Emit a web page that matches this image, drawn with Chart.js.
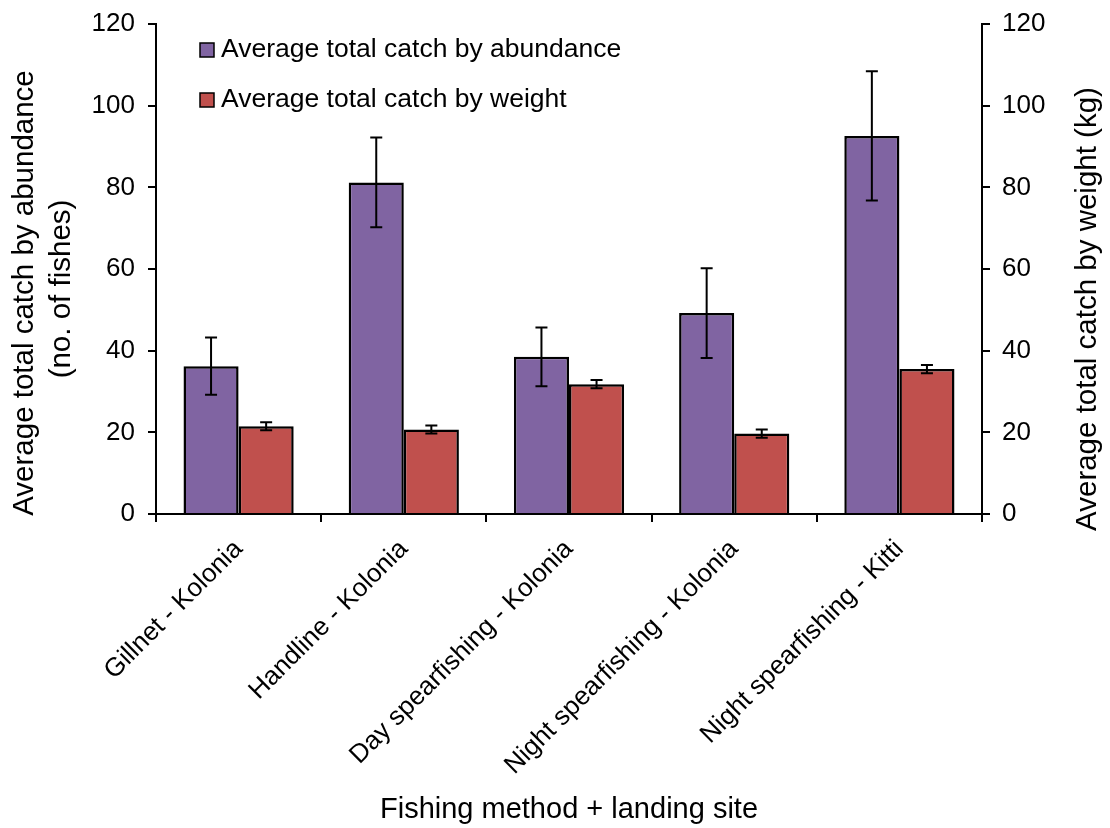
<!DOCTYPE html>
<html>
<head>
<meta charset="utf-8">
<script src="https://cdn.jsdelivr.net/npm/chart.js@4"></script>
<style>
  html, body { margin: 0; padding: 0; background: #fff; }
</style>
</head>
<body>
<canvas id="catchChart" width="1110" height="828"></canvas>
<script>
const categories = ['Gillnet - Kolonia', 'Handline - Kolonia', 'Day spearfishing - Kolonia', 'Night spearfishing - Kolonia', 'Night spearfishing - Kitti'];
const abundance = [36.2, 81.2, 38.5, 49.2, 92.6];
const abundanceErr = [7.0, 11.0, 7.2, 11.0, 15.8];
const weight = [21.5, 20.7, 31.8, 19.7, 35.5];
const weightErr = [1.0, 1.0, 1.0, 1.0, 1.0];
const yTicks = [0, 20, 40, 60, 80, 100, 120];

const FONT = 'Liberation Sans, Arial, sans-serif';

// whiskers for each bar, placed with the chart's own scales
const errorBars = {
  id: 'errorBars',
  afterDatasetsDraw(chart) {
    const ctx = chart.ctx;
    chart.data.datasets.forEach((ds, i) => {
      const meta = chart.getDatasetMeta(i);
      const scale = chart.scales[meta.yAxisID];
      meta.data.forEach((bar, j) => {
        const hi = scale.getPixelForValue(ds.data[j] + ds.errors[j]);
        const lo = scale.getPixelForValue(ds.data[j] - ds.errors[j]);
        ctx.save();
        ctx.strokeStyle = '#000';
        ctx.lineWidth = 2;
        ctx.beginPath();
        ctx.moveTo(bar.x, hi); ctx.lineTo(bar.x, lo);
        ctx.moveTo(bar.x - 6, hi); ctx.lineTo(bar.x + 6, hi);
        ctx.moveTo(bar.x - 6, lo); ctx.lineTo(bar.x + 6, lo);
        ctx.stroke();
        ctx.restore();
      });
    });
  }
};

// legend inside the plot + the two vertical axis titles
const extras = {
  id: 'extras',
  afterDraw(chart) {
    const ctx = chart.ctx;
    const area = chart.chartArea;
    ctx.save();
    ctx.fillStyle = '#000';
    ctx.textBaseline = 'middle';
    ctx.font = '26.5px ' + FONT;
    chart.data.datasets.forEach((ds, i) => {
      const x = area.left + 44;
      const y = area.top + 26 + i * 50;
      ctx.fillStyle = ds.backgroundColor;
      ctx.fillRect(x, y - 7, 14, 14);
      ctx.strokeStyle = '#000';
      ctx.lineWidth = 1.5;
      ctx.strokeRect(x, y - 7, 14, 14);
      ctx.fillStyle = '#000';
      ctx.textAlign = 'left';
      ctx.fillText(ds.label, x + 21, y);
    });

    ctx.font = '29.5px ' + FONT;
    ctx.textAlign = 'center';
    ctx.save();
    ctx.translate(25, 293);
    ctx.rotate(-Math.PI / 2);
    ctx.fillText('Average total catch by abundance', 0, 0);
    ctx.restore();
    ctx.save();
    ctx.translate(62, 289);
    ctx.rotate(-Math.PI / 2);
    ctx.fillText('(no. of fishes)', 0, 0);
    ctx.restore();
    ctx.save();
    ctx.translate(1088, 309);
    ctx.rotate(-Math.PI / 2);
    ctx.fillText('Average total catch by weight (kg)', 0, 0);
    ctx.restore();
    ctx.restore();
  }
};

const axisGrid = { display: true, drawOnChartArea: false, drawTicks: true, tickLength: 8, color: '#000', lineWidth: 2 };
const axisBorder = { display: true, color: '#000', width: 2 };
const fitY = w => s => { s.width = w; s.paddingTop = 0; s.paddingBottom = 0; };

new Chart(document.getElementById('catchChart'), {
  type: 'bar',
  data: {
    labels: categories,
    datasets: [{
      label: 'Average total catch by abundance',
      data: abundance,
      errors: abundanceErr,
      backgroundColor: '#8064A2',
      borderColor: '#000',
      borderWidth: 2.5,
      yAxisID: 'y'
    }, {
      label: 'Average total catch by weight',
      data: weight,
      errors: weightErr,
      backgroundColor: '#C0504D',
      borderColor: '#000',
      borderWidth: 2.5,
      yAxisID: 'y2'
    }]
  },
  options: {
    responsive: false,
    animation: false,
    devicePixelRatio: 1,
    categoryPercentage: 0.667,
    barPercentage: 1.0,
    layout: { padding: { top: 24, left: 0, right: 0, bottom: 0 } },
    plugins: { legend: { display: false }, tooltip: { enabled: false } },
    scales: {
      x: {
        grid: axisGrid,
        border: axisBorder,
        ticks: { color: '#000', font: { family: FONT, size: 26 }, minRotation: 45, maxRotation: 45, padding: 12, autoSkip: false },
        title: { display: true, text: 'Fishing method + landing site', color: '#000', font: { family: FONT, size: 29 }, padding: { top: 0, bottom: 1 } },
        afterFit: s => { s.height = 314; }
      },
      y: {
        position: 'left',
        min: 0,
        max: 120,
        grid: axisGrid,
        border: axisBorder,
        ticks: { color: '#000', font: { family: FONT, size: 26 }, padding: 13 },
        afterBuildTicks: s => { s.ticks = yTicks.map(v => ({ value: v })); },
        afterFit: fitY(156)
      },
      y2: {
        position: 'right',
        min: 0,
        max: 120,
        grid: axisGrid,
        border: axisBorder,
        ticks: { color: '#000', font: { family: FONT, size: 26 }, padding: 12 },
        afterBuildTicks: s => { s.ticks = yTicks.map(v => ({ value: v })); },
        afterFit: fitY(128)
      }
    }
  },
  plugins: [errorBars, extras]
});
</script>
</body>
</html>
